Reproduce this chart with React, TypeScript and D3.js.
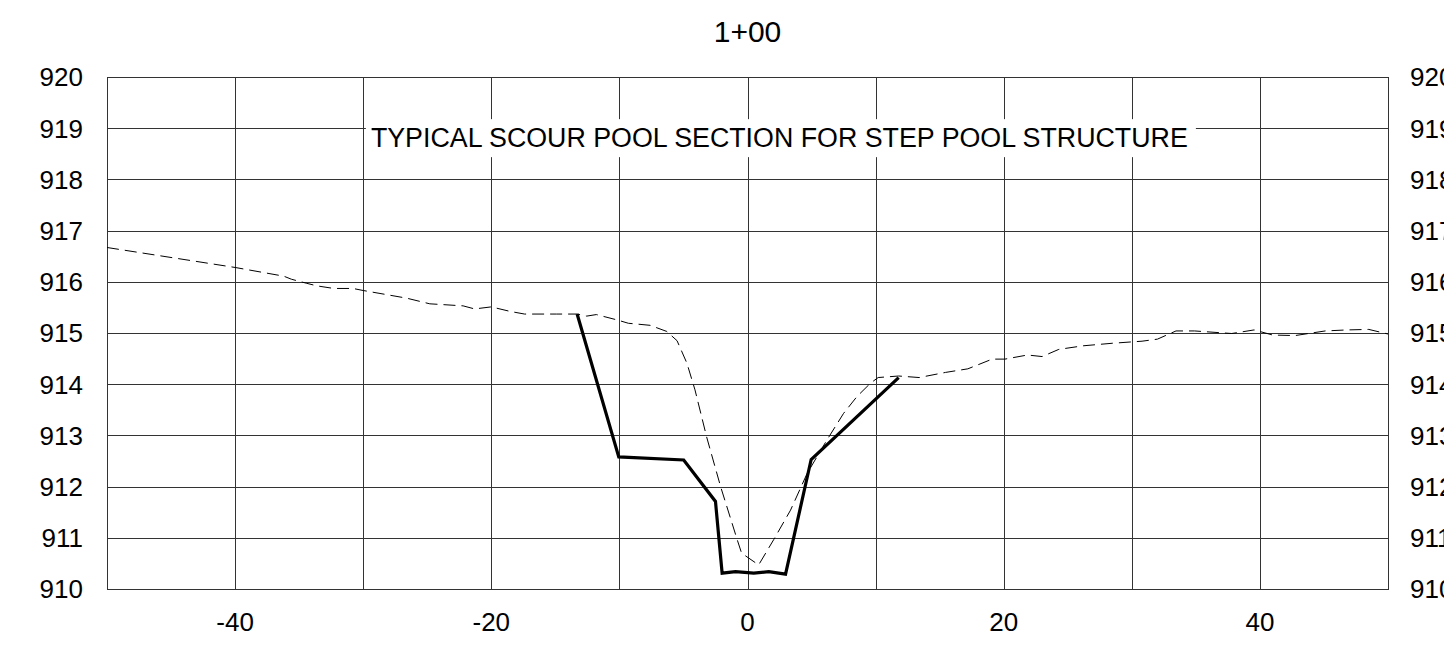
import React from "react";
import * as d3 from "d3";

const titleText = "1+00";
const noteText = "TYPICAL SCOUR POOL SECTION FOR STEP POOL STRUCTURE";

const xTickLabels = [-40, -20, 0, 20, 40];
const xGridValues = [-40, -30, -20, -10, 0, 10, 20, 30, 40];
const yTickLabels = [910, 911, 912, 913, 914, 915, 916, 917, 918, 919, 920];

const existingX = [
  -50, -40, -36.2, -35.6, -34.4, -33.6, -32.3, -30.8, -30, -26.6, -24.8, -22.2, -21.3, -20,
  -18.5, -17.4, -14.9, -13.3, -12.55, -11.8, -10.1, -9.3, -7.6, -6.3, -5.5, -4.73, -4.1,
  -3.19, -2.1, -0.8, -0.46, 0.87, 2.06, 3.36, 4.66, 6.2, 7.5, 8.55, 9.6, 10.2, 11.8, 13.4,
  15.45, 17.2, 19.1, 20.1, 21.85, 23.0, 24.3, 26.2, 28.5, 30.8, 32.0, 33.45, 34.9, 37.8,
  39.55, 41.0, 42.75, 45.1, 46.8, 48.5, 50,
];
const existingY = [
  916.67, 916.28, 916.11, 916.05, 915.97, 915.92, 915.87, 915.87, 915.83, 915.68, 915.57,
  915.53, 915.47, 915.51, 915.42, 915.37, 915.37, 915.37, 915.33, 915.36, 915.25, 915.19,
  915.15, 915.03, 914.85, 914.41, 913.89, 912.97, 912.0, 910.96, 910.7, 910.47, 910.97,
  911.54, 912.26, 912.91, 913.43, 913.76, 914.02, 914.13, 914.16, 914.13, 914.23, 914.3,
  914.49, 914.49, 914.57, 914.54, 914.68, 914.75, 914.8, 914.84, 914.88, 915.04, 915.04,
  914.99, 915.06, 914.96, 914.95, 915.04, 915.06, 915.07, 914.98,
];

const proposedX = [-13.3, -10.05, -4.98, -2.5, -1.98, -0.94, 0.49, 1.66, 2.97, 4.97, 11.8];
const proposedY = [915.37, 912.58, 912.52, 911.71, 910.31, 910.34, 910.31, 910.34, 910.29, 912.53, 914.13];

const W = 1444;
const H = 646;
const left = 107;
const right = 1388;
const top = 77;
const bottom = 589;
const FONT = "'Liberation Sans', Arial, Helvetica, sans-serif";

export default function App() {
  const x = d3.scaleLinear().domain([-50, 50]).range([left, right]);
  const y = d3.scaleLinear().domain([910, 920]).range([bottom, top]);

  const existing = existingX.map((v, i) => [v, existingY[i]] as [number, number]);
  const proposed = proposedX.map((v, i) => [v, proposedY[i]] as [number, number]);
  const line = d3
    .line<[number, number]>()
    .x((d) => x(d[0]))
    .y((d) => y(d[1]));

  const noteX = x(-29.4);
  const noteY = y(918.63);

  return (
    <svg
      width={W}
      height={H}
      style={{ position: "absolute", left: 0, top: 0, background: "#fff" }}
      fontFamily={FONT}
    >
      <rect x={0} y={0} width={W} height={H} fill="#fff" />
      {yTickLabels.map((v) => (
        <line
          key={"h" + v}
          x1={left}
          x2={right}
          y1={Math.round(y(v)) + 0.5}
          y2={Math.round(y(v)) + 0.5}
          stroke="#333"
          strokeWidth={1}
        />
      ))}
      {xGridValues.map((v) => (
        <line
          key={"v" + v}
          x1={Math.round(x(v)) + 0.5}
          x2={Math.round(x(v)) + 0.5}
          y1={top}
          y2={bottom}
          stroke="#333"
          strokeWidth={1}
        />
      ))}
      <rect
        x={left + 0.5}
        y={top + 0.5}
        width={right - left}
        height={bottom - top}
        fill="none"
        stroke="#333"
        strokeWidth={1}
      />
      <rect x={noteX - 5} y={noteY - 28} width={830} height={38} fill="#fff" />
      <text x={noteX} y={noteY} fontSize={26.8} fill="#000">
        {noteText}
      </text>

      <path
        d={line(existing) || ""}
        fill="none"
        stroke="#000"
        strokeWidth={1}
        strokeDasharray="12,6"
      />
      <path
        d={line(proposed) || ""}
        fill="none"
        stroke="#000"
        strokeWidth={3.2}
        strokeLinejoin="miter"
      />

      {yTickLabels.map((v) => (
        <text
          key={"yl" + v}
          x={83}
          y={y(v)}
          dy="0.36em"
          textAnchor="end"
          fontSize={26}
          fill="#000"
        >
          {v}
        </text>
      ))}
      {yTickLabels.map((v) => (
        <text
          key={"yr" + v}
          x={1410}
          y={y(v)}
          dy="0.36em"
          textAnchor="start"
          fontSize={26}
          fill="#000"
        >
          {v}
        </text>
      ))}
      {xTickLabels.map((v) => (
        <text
          key={"xl" + v}
          x={x(v)}
          y={631}
          textAnchor="middle"
          fontSize={26}
          fill="#000"
        >
          {v}
        </text>
      ))}
      <text x={x(0)} y={42} textAnchor="middle" fontSize={30} fill="#000">
        {titleText}
      </text>
    </svg>
  );
}
